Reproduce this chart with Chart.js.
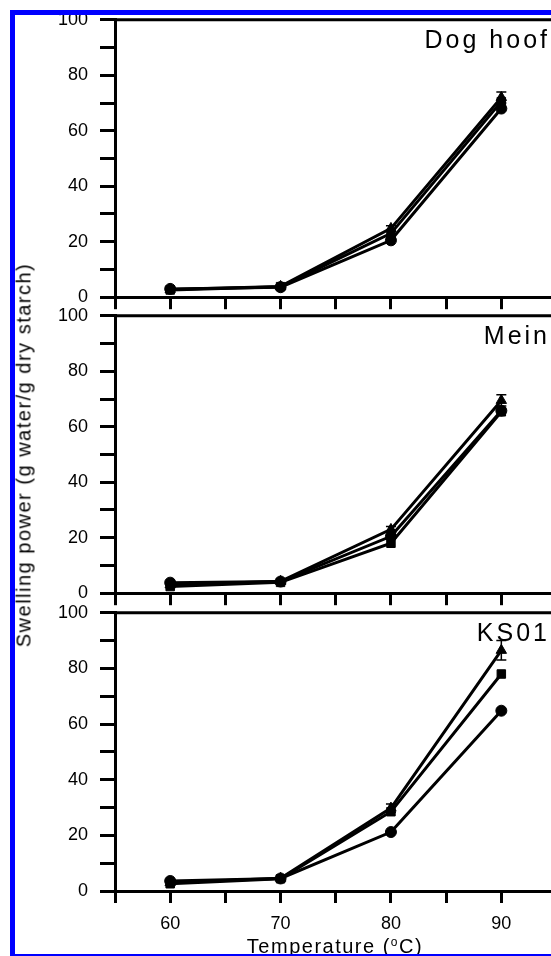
<!DOCTYPE html>
<html>
<head>
<meta charset="utf-8">
<script src="https://cdn.jsdelivr.net/npm/chart.js@4.4.1/dist/chart.umd.min.js"></script>
<style>
  html, body { margin: 0; padding: 0; background: #fff; }
  body { position: relative; width: 551px; height: 956px; overflow: hidden; font-family: "Liberation Sans", Arial, sans-serif; color: #000; }
  canvas { position: absolute; left: 0; }
  .frame { position: absolute; left: 10px; top: 10px; width: 600px; height: 939px; border: 5px solid #0000ff; z-index: 10; pointer-events: none; }
  .panel-label { position: absolute; right: 1px; font-size: 25px; line-height: 25px; letter-spacing: 3px; white-space: nowrap; }
  .ytitle { position: absolute; left: 24px; top: 455px; transform: translate(-50%, -50%) rotate(-90deg); font-size: 20px; letter-spacing: 1.5px; white-space: nowrap; }
  .xtitle { position: absolute; left: 335px; top: 936px; transform: translateX(-50%); font-size: 20px; line-height: 20px; letter-spacing: 1.5px; white-space: nowrap; }
  .xtitle sup { font-size: 12px; vertical-align: 7px; line-height: 0; }
</style>
</head>
<body>
<canvas id="p0" width="551" height="320"></canvas>
<canvas id="p1" width="551" height="320"></canvas>
<canvas id="p2" width="551" height="360"></canvas>
<div class="panel-label" style="top:27px">Dog hoof</div>
<div class="panel-label" style="top:323px">Mein</div>
<div class="panel-label" style="top:620px">KS01</div>
<div class="ytitle">Swelling power (g water/g dry starch)</div>
<div class="xtitle">Temperature (<sup>o</sup>C)</div>
<div class="frame"></div>
<script>
  const temps = [60, 70, 80, 90];
  const xTicks = [55, 60, 65, 70, 75, 80, 85, 90];
  const xTickLabels = [60, 70, 80, 90];
  const yTickLabels = [0, 20, 40, 60, 80, 100];

  const dogHoofCircle = [3.0, 3.6, 20.5, 68.0];
  const dogHoofSquare = [2.6, 3.8, 23.0, 70.5];
  const dogHoofTriangle = [2.8, 3.9, 24.8, 72.0];
  const dogHoofTriangleErr = [0, 0, 1.0, 2.0];

  const meinCircle = [3.8, 4.2, 20.5, 65.8];
  const meinSquare = [2.4, 3.9, 18.0, 65.4];
  const meinTriangle = [3.0, 4.3, 23.0, 69.5];
  const meinTriangleErr = [0, 0, 1.0, 2.0];

  const ks01Circle = [3.6, 4.5, 21.2, 64.8];
  const ks01Square = [2.6, 4.4, 28.5, 78.0];
  const ks01Triangle = [3.0, 4.6, 29.8, 86.5];
  const ks01TriangleErr = [0, 0, 1.5, 3.5];

  const tickFont = { family: "'Liberation Sans', Arial, sans-serif", size: 18 };

  const frameTop = {
    id: "frameTop",
    beforeDatasetsDraw(chart) {
      const { ctx, chartArea } = chart;
      ctx.save();
      ctx.strokeStyle = "#000";
      ctx.lineWidth = 3;
      ctx.beginPath();
      ctx.moveTo(chartArea.left, chartArea.top);
      ctx.lineTo(chartArea.right, chartArea.top);
      ctx.stroke();
      ctx.restore();
    }
  };

  const errorBars = {
    id: "errorBars",
    beforeDatasetsDraw(chart) {
      const { ctx, scales } = chart;
      ctx.save();
      ctx.strokeStyle = "#000";
      ctx.lineWidth = 1.5;
      chart.data.datasets.forEach((ds) => {
        if (!ds.errors) return;
        ds.data.forEach((p, i) => {
          const e = ds.errors[i];
          if (!e) return;
          const x = scales.x.getPixelForValue(p.x);
          const yHi = scales.y.getPixelForValue(p.y + e);
          const yLo = scales.y.getPixelForValue(p.y - e);
          ctx.beginPath();
          ctx.moveTo(x, yHi); ctx.lineTo(x, yLo);
          ctx.moveTo(x - 5, yHi); ctx.lineTo(x + 5, yHi);
          ctx.moveTo(x - 5, yLo); ctx.lineTo(x + 5, yLo);
          ctx.stroke();
        });
      });
      ctx.restore();
    }
  };

  function series(values, style, radius, errors) {
    return {
      data: temps.map((t, i) => ({ x: t, y: values[i] })),
      showLine: true,
      borderColor: "#000",
      borderWidth: 3,
      pointStyle: style,
      pointRadius: radius,
      pointBackgroundColor: "#000",
      pointBorderColor: "#000",
      pointBorderWidth: 1,
      errors: errors || null
    };
  }

  function config(datasets, showLabels, xHeight) {
    const axisGrid = (len) => ({ drawOnChartArea: false, drawTicks: true, tickLength: len, lineWidth: 3, color: "#000" });
    const border = { display: true, width: 3, color: "#000" };
    return {
      type: "scatter",
      data: { datasets },
      options: {
        responsive: false,
        maintainAspectRatio: false,
        animation: false,
        devicePixelRatio: 1,
        layout: { padding: { top: 14, left: 0, right: 0, bottom: 0 }, autoPadding: false },
        plugins: { legend: { display: false }, tooltip: { enabled: false } },
        scales: {
          x: {
            type: "linear",
            min: 55,
            max: 94.5,
            afterBuildTicks: (s) => { s.ticks = xTicks.map((v) => ({ value: v })); },
            afterFit: (s) => { s.height = xHeight; },
            ticks: {
              display: showLabels,
              autoSkip: false,
              maxRotation: 0,
              padding: 10,
              color: "#000",
              font: tickFont,
              callback: (v) => (xTickLabels.includes(v) ? String(v) : "")
            },
            grid: axisGrid(12),
            border
          },
          y: {
            min: 0,
            max: 100,
            afterFit: (s) => { s.width = 115; },
            ticks: {
              stepSize: 10,
              autoSkip: false,
              padding: 12,
              color: "#000",
              font: tickFont,
              callback: (v) => (yTickLabels.includes(v) ? String(v) : "")
            },
            grid: axisGrid(15),
            border
          }
        }
      },
      plugins: [frameTop, errorBars]
    };
  }

  // build once, measure where the plot area landed, then rebuild with the canvas
  // sized and placed so the 0..100 band sits where it does in the figure
  function makePanel(id, datasets, showLabels, xHeight, top, bottom) {
    const canvas = document.getElementById(id);
    let chart = new Chart(canvas, config(datasets, showLabels, xHeight));
    const offTop = chart.chartArea.top;
    const offBottom = chart.height - chart.chartArea.bottom;
    chart.destroy();
    canvas.width = 551;
    canvas.height = Math.round(offTop + (bottom - top) + offBottom);
    canvas.style.top = (top - offTop) + "px";
    chart = new Chart(canvas, config(datasets, showLabels, xHeight));
    return chart;
  }

  makePanel("p0", [
    series(dogHoofCircle, "circle", 5.5),
    series(dogHoofSquare, "rect", 6),
    series(dogHoofTriangle, "triangle", 6, dogHoofTriangleErr)
  ], false, 13, 20, 297);

  makePanel("p1", [
    series(meinCircle, "circle", 5.5),
    series(meinSquare, "rect", 6),
    series(meinTriangle, "triangle", 6, meinTriangleErr)
  ], false, 13, 316, 593);

  makePanel("p2", [
    series(ks01Circle, "circle", 5.5),
    series(ks01Square, "rect", 6),
    series(ks01Triangle, "triangle", 6, ks01TriangleErr)
  ], true, 65, 613, 891);
</script>
</body>
</html>
